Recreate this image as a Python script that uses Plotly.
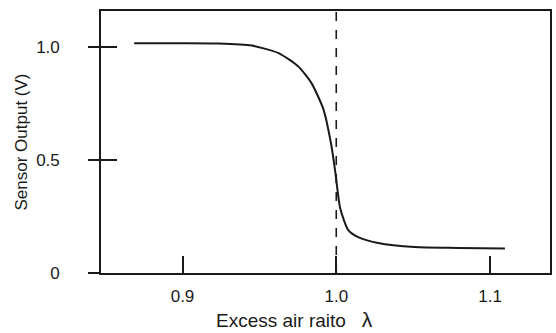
import plotly.graph_objects as go

# Data
lam = [0.8686, 0.8977, 0.9236, 0.945, 0.9625, 0.9754, 0.9838, 0.9916, 0.9968,
       0.9994, 1.0026, 1.0078, 1.0142, 1.0272, 1.051, 1.079, 1.1097]
volt = [1.016, 1.016, 1.015, 1.006, 0.973, 0.913, 0.841, 0.725, 0.565,
        0.445, 0.285, 0.190, 0.159, 0.133, 0.115, 0.111, 0.108]
stoich_lambda = 1.0
x_ticks = [0.9, 1.0, 1.1]
x_tick_labels = ["0.9", "1.0", "1.1"]
y_ticks = [0, 0.5, 1.0]
y_tick_labels = ["0", "0.5", "1.0"]
x_title = "Excess air raito&nbsp;&nbsp;&nbsp;<span style='font-size:21px'>λ</span>"
y_title = "Sensor Output (V)"

FONT = "Liberation Sans, Arial, sans-serif"
INK = "#1a1a1a"
x_range = [0.847, 1.139]
y_range = [0, 1.159]

fig = go.Figure()
fig.add_trace(go.Scatter(x=lam, y=volt, mode="lines",
                         line=dict(color=INK, width=2, shape="spline", smoothing=0.6),
                         hoverinfo="skip", showlegend=False))
# invisible trace for the overlaid inside-tick axis
fig.add_trace(go.Scatter(x=[lam[0]], y=[volt[0]], yaxis="y2", mode="markers",
                         marker=dict(opacity=0), hoverinfo="skip", showlegend=False))

fig.add_vline(x=stoich_lambda, line=dict(color=INK, width=1.6, dash="dash"))

fig.add_annotation(text=x_title, xref="paper", yref="paper",
                   x=0.432, y=-0.179, xanchor="center", yanchor="middle",
                   showarrow=False, font=dict(size=19, color=INK))

fig.update_layout(
    width=556, height=333,
    margin=dict(l=101, r=4, t=11, b=60),
    paper_bgcolor="white", plot_bgcolor="white",
    font=dict(family=FONT, size=18, color=INK),
    xaxis=dict(range=x_range, tickvals=x_ticks, ticktext=x_tick_labels,
               ticks="inside", ticklen=17, tickwidth=1.5, tickcolor=INK,
               showline=True, linecolor=INK, linewidth=1.6, mirror=True,
               showgrid=False, zeroline=False, ticklabelstandoff=7,
               tickfont=dict(size=17)),
    yaxis=dict(range=y_range, tickvals=y_ticks, ticktext=y_tick_labels,
               ticks="outside", ticklen=11, tickwidth=1.5, tickcolor=INK,
               showline=True, linecolor=INK, linewidth=1.6, mirror=True,
               showgrid=False, zeroline=False, ticklabelstandoff=25,
               tickfont=dict(size=17),
               title=dict(text=y_title, standoff=4,
                          font=dict(size=17))),
    yaxis2=dict(range=y_range, overlaying="y", side="left",
                tickvals=[0.5, 1.0], ticks="inside", ticklen=16, tickwidth=1.5,
                tickcolor=INK, showticklabels=False, showgrid=False,
                zeroline=False, showline=False),
)

fig.write_html("out.html")
